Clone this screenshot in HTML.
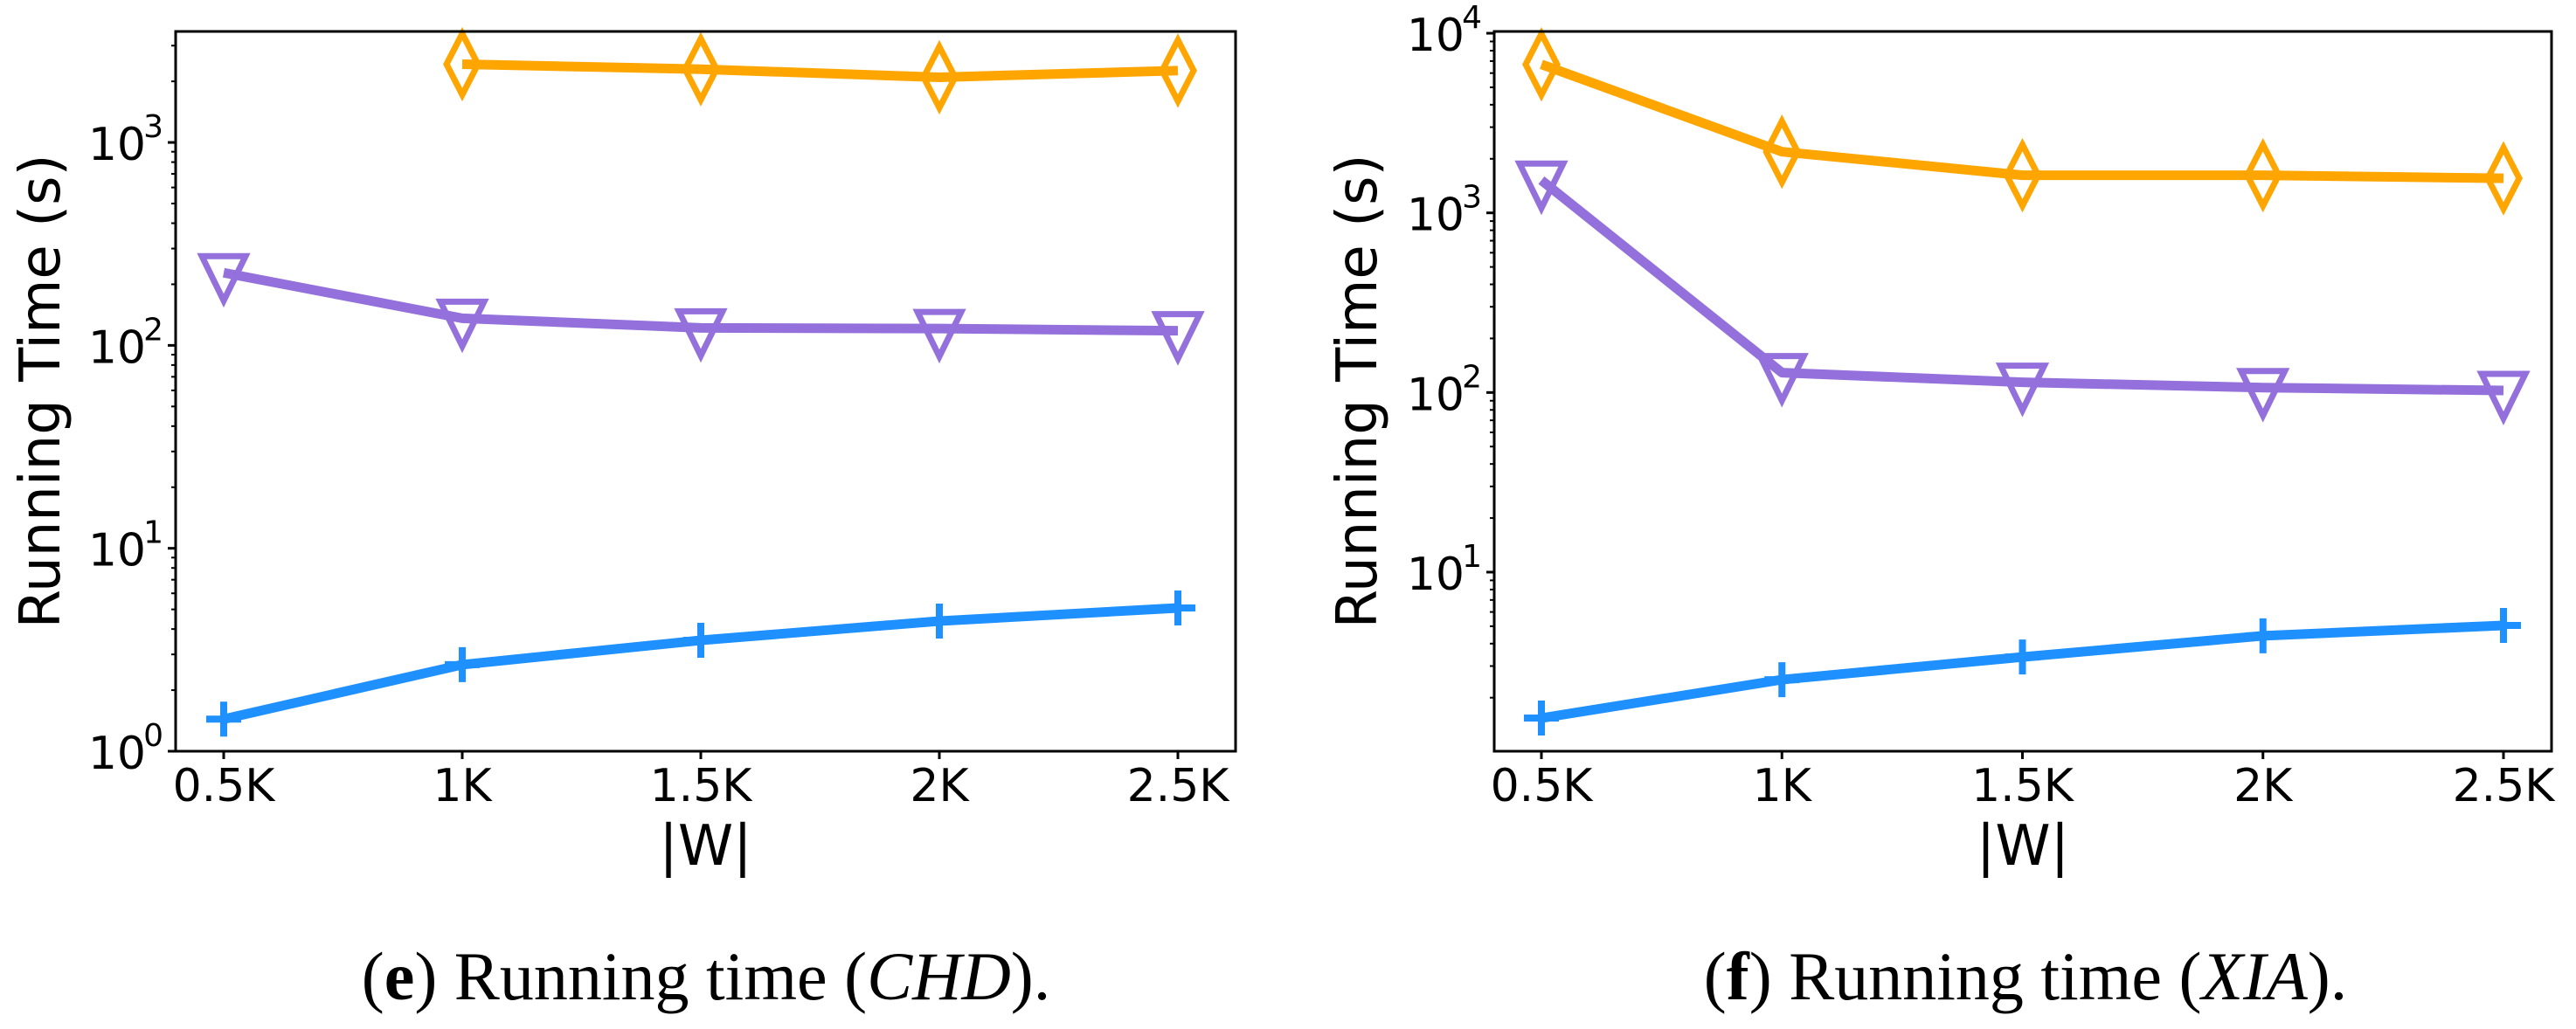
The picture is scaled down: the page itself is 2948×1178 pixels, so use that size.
<!DOCTYPE html>
<html><head><meta charset="utf-8">
<style>
html,body{margin:0;padding:0;background:#fff;}
svg{display:block;}
.tick{font-family:"DejaVu Sans","Liberation Sans",sans-serif;font-size:52px;fill:#000;}
.sup{font-size:36px;}
.axlab{font-family:"DejaVu Sans","Liberation Sans",sans-serif;font-size:64px;fill:#000;}
.cap{font-family:"Liberation Serif",serif;font-size:78px;fill:#000;}
</style></head>
<body>
<svg id="fig" width="2948" height="1178" viewBox="0 0 2948 1178" xmlns="http://www.w3.org/2000/svg">
<text class="cap" x="808" y="1144" text-anchor="middle">(<tspan font-weight="bold">e</tspan>) Running time (<tspan font-style="italic">CHD</tspan>).</text>
<text class="cap" x="2318" y="1144" text-anchor="middle">(<tspan font-weight="bold">f</tspan>) Running time (<tspan font-style="italic">XIA</tspan>).</text>
</svg>
<script>
const categories = ["0.5K","1K","1.5K","2K","2.5K"];
const chdOrange = [null, 2430, 2296, 2095, 2260];
const chdPurple = [228, 136, 122, 121, 118];
const chdBlue = [1.44, 2.67, 3.52, 4.38, 5.08];
const xiaOrange = [6710, 2190, 1620, 1620, 1557];
const xiaPurple = [1520, 129, 114, 106.5, 102.6];
const xiaBlue = [1.54, 2.52, 3.37, 4.42, 5.05];
const chdYTicks = [0, 1, 2, 3];
const xiaYTicks = [1, 2, 3, 4];

const NS = "http://www.w3.org/2000/svg";
const svg = document.getElementById("fig");
function mk(tag, attrs, parent) {
  const e = document.createElementNS(NS, tag);
  for (const k in attrs) e.setAttribute(k, attrs[k]);
  (parent || svg).appendChild(e);
  return e;
}
const ORANGE = "#FFA500", PURPLE = "#9370DB", BLUE = "#1E90FF";

function panel(name, box, logMin, logMax, yTicks, series) {
  const g = mk("g", {});
  
  
  const x0 = box.x0, x1 = box.x1, y0 = box.y0, y1 = box.y1;
  const n = categories.length;
  const xs = i => box.xFirst + i * (box.xLast - box.xFirst) / (n - 1);
  const ys = v => y1 - (Math.log10(v) - logMin) / (logMax - logMin) * (y1 - y0);

  // minor ticks
  for (let d = Math.floor(logMin); d <= Math.ceil(logMax); d++) {
    for (let m = 2; m <= 9; m++) {
      const lv = d + Math.log10(m);
      if (lv < logMin || lv > logMax) continue;
      const yy = ys(Math.pow(10, lv));
      const t = mk("line", {x1: x0 - 5, x2: x0, y1: yy, y2: yy, stroke: "#000", "stroke-width": 2}, g);
      
      
    }
  }
  // major ticks + labels
  yTicks.forEach(p => {
    const yy = ys(Math.pow(10, p));
    const t = mk("line", {x1: x0 - 9, x2: x0, y1: yy, y2: yy, stroke: "#000", "stroke-width": 3}, g);
    
    
    const tx = mk("text", {class: "tick", x: x0 - 34, y: yy + 20, "text-anchor": "end"}, g);
    
    
    tx.textContent = "10";
    const sp = mk("text", {class: "tick sup", x: x0 - 14, y: yy - 6, "text-anchor": "end"}, g);
    
    
    sp.textContent = String(p);
  });
  // x ticks
  categories.forEach((c, i) => {
    const xx = xs(i);
    const t = mk("line", {x1: xx, x2: xx, y1: y1, y2: y1 + 9, stroke: "#000", "stroke-width": 3}, g);
    
    
    const tx = mk("text", {class: "tick", x: xx, y: 917, "text-anchor": "middle"}, g);
    
    
    tx.textContent = c;
  });
  // series
  series.forEach(s => {
    const pts = [];
    s.values.forEach((v, i) => { if (v != null) pts.push([xs(i), ys(v)]); });
    const pl = mk("polyline", {points: pts.map(p => p.join(",")).join(" "), fill: "none", stroke: s.color, "stroke-width": 11, "stroke-linejoin": "round"}, g);
    
    
    pts.forEach(([px, py]) => {
      let m;
      if (s.marker === "diamond") {
        m = mk("polygon", {points: `${px},${py - 35} ${px + 18},${py} ${px},${py + 35} ${px - 18},${py}`, fill: "none", stroke: s.color, "stroke-width": 7}, g);
      } else if (s.marker === "tri") {
        m = mk("polygon", {points: `${px - 25},${py - 19} ${px + 25},${py - 19} ${px},${py + 32}`, fill: "none", stroke: s.color, "stroke-width": 7}, g);
      } else {
        m = mk("path", {d: `M${px - 20},${py}H${px + 20}M${px},${py - 20}V${py + 20}`, fill: "none", stroke: s.color, "stroke-width": 8}, g);
      }
      
      
    });
  });
  // frame
  const fr = mk("rect", {x: x0, y: y0, width: x1 - x0, height: y1 - y0, fill: "none", stroke: "#000", "stroke-width": 3}, g);
  
  
  // axis labels
  const cx = (x0 + x1) / 2, cy = (y0 + y1) / 2;
  const xl = mk("text", {class: "axlab", x: cx, y: 990, "text-anchor": "middle"}, g);
  
  
  xl.textContent = "|W|";
  const yl = mk("text", {class: "axlab", x: 0, y: 0, "text-anchor": "middle", transform: `translate(${box.ylabX},${cy}) rotate(-90)`}, g);
  
  
  yl.textContent = "Running Time (s)";
}

panel("chart-chd", {x0: 201, x1: 1414, y0: 36, y1: 860, xFirst: 256, xLast: 1348, ylabX: 68}, 0, 3.547, chdYTicks, [
  {name: "orange-series", values: chdOrange, color: ORANGE, marker: "diamond"},
  {name: "purple-series", values: chdPurple, color: PURPLE, marker: "tri"},
  {name: "blue-series", values: chdBlue, color: BLUE, marker: "plus"}
]);
panel("chart-xia", {x0: 1710, x1: 2920, y0: 36, y1: 860, xFirst: 1764, xLast: 2865, ylabX: 1575}, 0.003, 4.01, xiaYTicks, [
  {name: "orange-series", values: xiaOrange, color: ORANGE, marker: "diamond"},
  {name: "purple-series", values: xiaPurple, color: PURPLE, marker: "tri"},
  {name: "blue-series", values: xiaBlue, color: BLUE, marker: "plus"}
]);
</script>
</body></html>
